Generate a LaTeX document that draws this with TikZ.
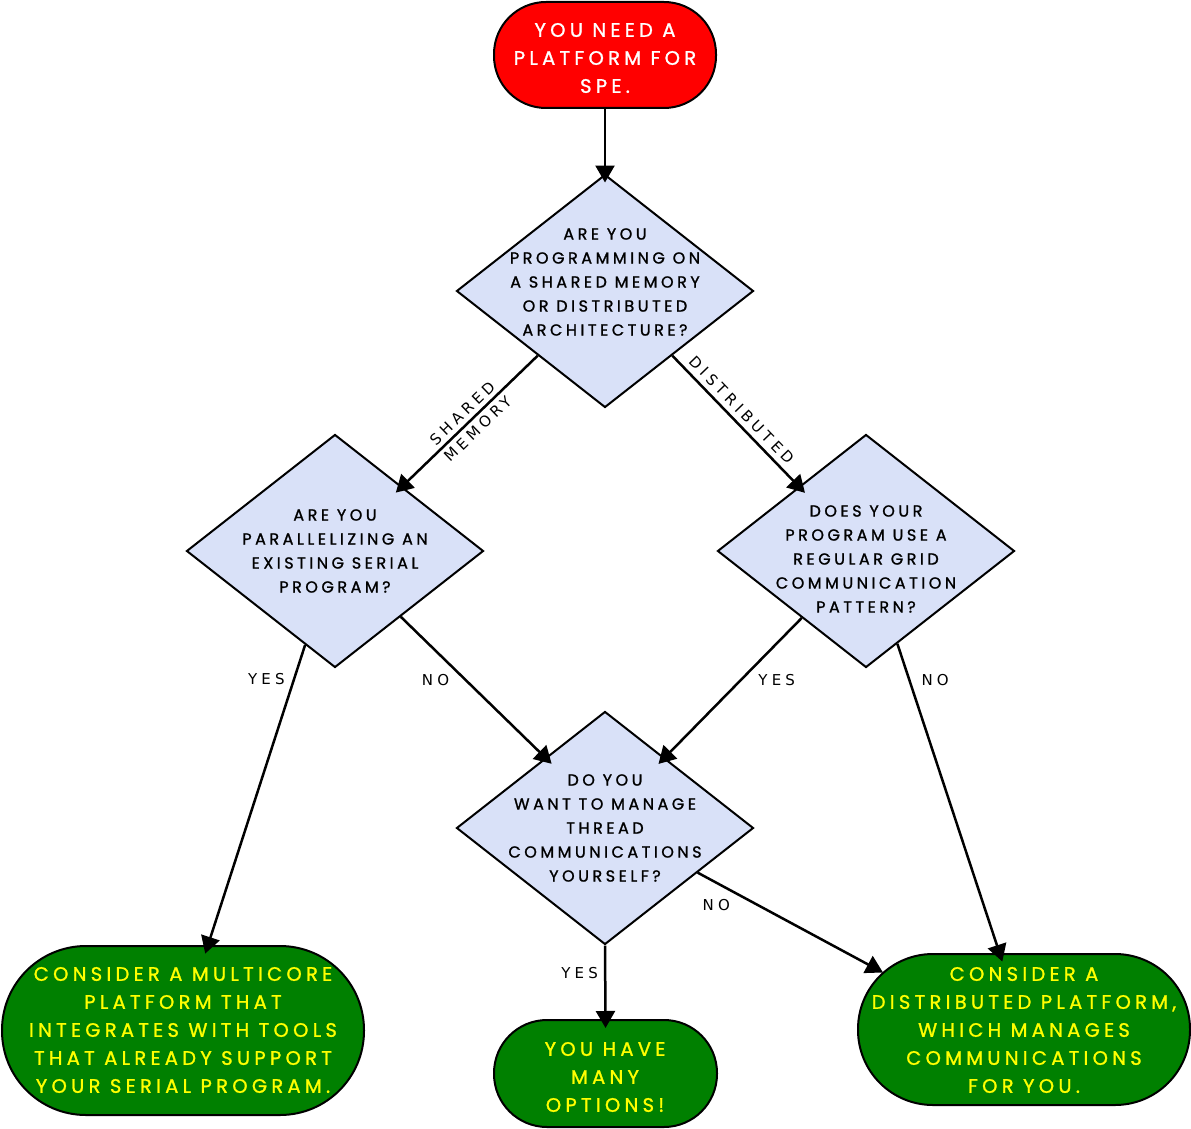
\documentclass[tikz,border=0pt]{standalone}
\usepackage{fontspec}
\newfontfamily\nodefont[LetterSpace=22, FakeBold=1.2]{Poppins}
\newfontfamily\edgefont[LetterSpace=28]{DejaVu Sans}
\usetikzlibrary{shapes.geometric,arrows.meta,calc}
\definecolor{dfill}{RGB}{217,225,248}
\definecolor{gfill}{RGB}{0,128,0}
\definecolor{ytext}{RGB}{255,255,0}
\begin{document}
\begin{tikzpicture}[x=1pt,y=-1pt,
  qbox/.style={diamond, draw=black, line width=2pt, fill=dfill, minimum width=297pt, minimum height=233pt, inner sep=0pt},
  qtext/.style={align=center, inner sep=0pt, font=\nodefont\fontsize{16}{24}\selectfont, text=black},
  endbox/.style={rectangle, draw=black, line width=2pt, fill=gfill, inner sep=0pt},
  endtext/.style={align=center, inner sep=0pt, font=\nodefont\fontsize{19.5}{28}\selectfont, text=ytext},
  arr/.style={line width=2.5pt, shorten >=-9pt, -{Triangle[length=17pt,width=19pt]}},
  elab/.style={font=\edgefont\fontsize{15}{22}\selectfont, inner sep=2pt, text=black}
]
\useasboundingbox (0,0) rectangle (1191,1129);

% nodes
\node[endbox, fill=red, minimum width=222pt, minimum height=106pt, rounded corners=52pt] (start) at (605,55) {};
\node[endtext, text=white] (startt) at (605,58) {YOU NEED A\\PLATFORM FOR\\SPE.};

\node[qbox] (d1) at (605,291) {};
\node[qtext] (d1t) at (605,282) {ARE YOU\\PROGRAMMING ON\\A SHARED MEMORY\\OR DISTRIBUTED\\ARCHITECTURE?};

\node[qbox] (d2) at (335,551) {};
\node[qtext] (d2t) at (335,551) {ARE YOU\\PARALLELIZING AN\\EXISTING SERIAL\\PROGRAM?};

\node[qbox] (d3) at (866,551) {};
\node[qtext] (d3t) at (866,559) {DOES YOUR\\PROGRAM USE A\\REGULAR GRID\\COMMUNICATION\\PATTERN?};

\node[qbox] (d4) at (605,828) {};
\node[qtext] (d4t) at (605,828) {DO YOU\\WANT TO MANAGE\\THREAD\\COMMUNICATIONS\\YOURSELF?};

\node[endbox, minimum width=362pt, minimum height=169pt, rounded corners=84pt] (eL) at (183,1030.5) {};
\node[endtext] (eLt) at (183,1030) {CONSIDER A MULTICORE\\PLATFORM THAT\\INTEGRATES WITH TOOLS\\THAT ALREADY SUPPORT\\YOUR SERIAL PROGRAM.};

\node[endbox, minimum width=223pt, minimum height=107pt, rounded corners=53pt] (eM) at (605.5,1073.5) {};
\node[endtext] (eMt) at (605,1077) {YOU HAVE\\MANY\\OPTIONS!};

\node[endbox, minimum width=332pt, minimum height=151pt, rounded corners=75pt] (eR) at (1024,1029.5) {};
\node[endtext] (eRt) at (1024,1030) {CONSIDER A\\DISTRIBUTED PLATFORM,\\WHICH MANAGES\\COMMUNICATIONS\\FOR YOU.};

% connectors
\draw[arr] (start.south) -- (d1.north);
\draw[arr] ($(d1.west)!0.55!(d1.south)$) -- node[elab, sloped, align=center]{SHARED\\MEMORY} ($(d2.north)!0.45!(d2.east)$);
\draw[arr] ($(d1.south)!0.45!(d1.east)$) -- node[elab, sloped, above=3pt, pos=0.48]{DISTRIBUTED} ($(d3.west)!0.55!(d3.north)$);
\draw[arr] ($(d2.west)!0.8!(d2.south)$) -- node[elab, pos=0.115, left=6pt]{YES} ($(eL.north)+(25,0)$);
\draw[arr] ($(d2.south)!0.44!(d2.east)$) -- node[elab, pos=0.447, left=13pt]{NO} ($(d4.west)!0.6!(d4.north)$);
\draw[arr] ($(d3.west)!0.57!(d3.south)$) -- node[elab, pos=0.442, right=14pt]{YES} ($(d4.north)!0.4!(d4.east)$);
\draw[arr] ($(d3.south)!0.21!(d3.east)$) -- node[elab, pos=0.116, right=9pt]{NO} ($(eR.north)+(-24.5,0)$);
\draw[arr, shorten >=0pt] ($(d4.south)!0.62!(d4.east)$) -- node[elab, pos=0.1, below=13pt]{NO} ($(eR.center)+(-141,-57)$);
\draw[arr] (d4.south) -- node[elab, pos=0.37, left=4pt]{YES} (eM.north);
\end{tikzpicture}
\end{document}
